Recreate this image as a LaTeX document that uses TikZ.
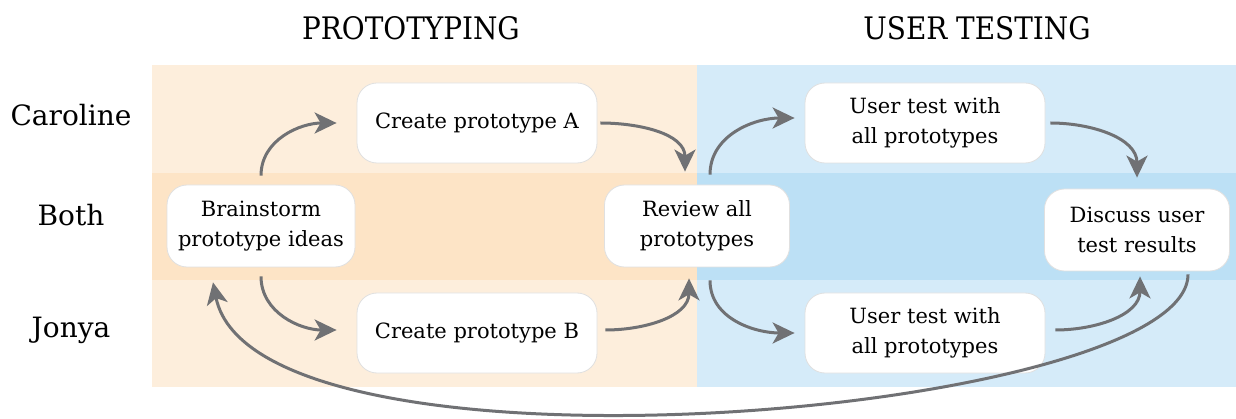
\documentclass[tikz,border=0pt]{standalone}
\usepackage{fontspec}
\setmainfont{DejaVu Serif}
\newfontfamily\headfont{DejaVu Serif Condensed}
\usetikzlibrary{arrows.meta}
\definecolor{orangeLight}{HTML}{FDEEDC}
\definecolor{orangeMid}{HTML}{FDE4C6}
\definecolor{blueLight}{HTML}{D5EBF9}
\definecolor{blueMid}{HTML}{BCE0F5}
\definecolor{flowGray}{HTML}{707174}
\definecolor{boxEdge}{HTML}{E0E0E0}
\tikzset{
  lane/.style={font=\fontsize{28}{32}\selectfont},
  phase/.style={font=\headfont\fontsize{31}{34}\selectfont},
  task/.style={draw=boxEdge, line width=0.8pt, fill=white, rounded corners=20pt,
    align=center, inner sep=0pt, font=\fontsize{21}{30}\selectfont},
  flow/.style={draw=flowGray, line width=3pt,
    -{Stealth[length=22pt,width=21pt,inset=6pt]}},
}
\begin{document}
\begin{tikzpicture}[x=1pt,y=-1pt]
  \useasboundingbox (0,0) rectangle (1236,419);
  % swimlane backgrounds
  \fill[orangeLight] (152,65) rectangle (697,387);
  \fill[orangeMid] (152,173) rectangle (697,280);
  \fill[blueLight] (697,65) rectangle (1236,387);
  \fill[blueMid] (697,173) rectangle (1236,280);
  % headers and lane labels
  \node[phase] (hproto) at (411,28) {PROTOTYPING};
  \node[phase] (htest) at (977,28) {USER TESTING};
  \node[lane] (lcar) at (71,115) {Caroline};
  \node[lane] (lboth) at (71,215) {Both};
  \node[lane] (ljon) at (71,330) {Jonya};
  % tasks
  \node[task, minimum width=188pt, minimum height=82pt] (brain) at (261,226) {Brainstorm\\prototype ideas};
  \node[task, minimum width=240pt, minimum height=80pt] (crA) at (477,123) {Create prototype A};
  \node[task, minimum width=240pt, minimum height=80pt] (crB) at (477,333) {Create prototype B};
  \node[task, minimum width=185pt, minimum height=82pt] (rev) at (697,226) {Review all\\prototypes};
  \node[task, minimum width=240pt, minimum height=80pt] (utA) at (925,123) {User test with\\all prototypes};
  \node[task, minimum width=240pt, minimum height=80pt] (utB) at (925,333) {User test with\\all prototypes};
  \node[task, minimum width=185pt, minimum height=82pt] (disc) at (1137,230) {Discuss user\\test results};
  % connectors
  \draw[flow] ([yshift=9pt]brain.north) to[out=90,in=180] ([xshift=-20pt]crA.west);
  \draw[flow] ([xshift=3pt]crA.east) to[out=0,in=90] ([xshift=-12pt,yshift=13pt]rev.north);
  \draw[flow] ([yshift=-9pt]brain.south) to[out=-90,in=180] ([xshift=-20pt,yshift=3pt]crB.west);
  \draw[flow] ([xshift=8pt,yshift=3pt]crB.east) to[out=0,in=-90] ([xshift=-8pt,yshift=-11pt]rev.south);
  \draw[flow] ([xshift=13pt,yshift=10pt]rev.north) to[out=90,in=180] ([xshift=-10pt,yshift=5pt]utA.west);
  \draw[flow] ([xshift=5pt]utA.east) to[out=0,in=90] ([yshift=11pt]disc.north);
  \draw[flow] ([xshift=13pt,yshift=-13pt]rev.south) to[out=-90,in=180] ([xshift=-10pt]utB.west);
  \draw[flow] ([xshift=10pt,yshift=3pt]utB.east) to[out=0,in=-90] ([xshift=3pt,yshift=-5pt]disc.south);
  \draw[flow] ([xshift=51pt,yshift=-3pt]disc.south) .. controls (1188,415) and (255,495) .. ([xshift=-48pt,yshift=-15pt]brain.south);
\end{tikzpicture}
\end{document}
